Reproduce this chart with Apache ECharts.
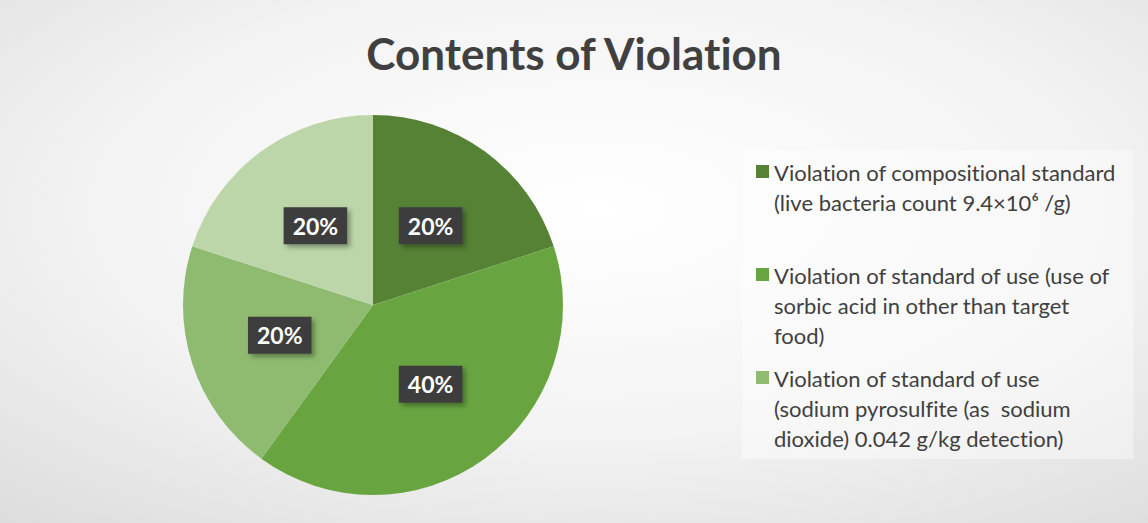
<!DOCTYPE html>
<html>
<head>
<meta charset="utf-8">
<script src="https://cdn.jsdelivr.net/npm/echarts@6/dist/echarts.min.js"></script>
<style>
  html, body { margin: 0; padding: 0; }
  #main { width: 1148px; height: 523px; }
  /* Lato has a "ti" ligature, Calibri does not */
  #main text { font-variant-ligatures: none; }
</style>
</head>
<body>
<div id="main"></div>
<script>
// data
const categories = [
  'Violation of compositional standard\n(live bacteria count 9.4×10⁶ /g)\n ',
  'Violation of standard of use (use of\nsorbic acid in other than target\nfood)',
  'Violation of standard of use\n(sodium pyrosulfite (as  sodium\ndioxide) 0.042 g/kg detection)',
  'Other'
];
const values = [20, 40, 20, 20];
const sliceColors = ['#558235', '#68a541', '#8fbb70', '#bcd6aa'];
const legendNames = categories.slice(0, 3);

const chart = echarts.init(document.getElementById('main'), null, { renderer: 'svg' });

const option = {
  backgroundColor: {
    type: 'radial', x: 0.52, y: 0.4, r: 1.25,
    colorStops: [
      { offset: 0, color: '#ffffff' },
      { offset: 0.35, color: '#f3f3f3' },
      { offset: 1, color: '#c0c0c0' }
    ]
  },
  title: {
    text: 'Contents of Violation',
    left: 'center',
    top: 26,
    textStyle: { fontFamily: 'Lato', fontWeight: 'bold', fontSize: 44, color: '#404040' }
  },
  legend: {
    orient: 'vertical',
    left: 742,
    top: 150,
    data: legendNames,
    backgroundColor: 'rgba(255,255,255,0.4)',
    padding: [7, 17, 6, 14],
    itemGap: 13,
    itemWidth: 13,
    itemHeight: 90,
    icon: 'path://M0,0M0,8h13v13h-13zM0,90',
    selectedMode: false,
    textStyle: { fontFamily: 'Lato', fontSize: 22, color: '#404040', lineHeight: 30 }
  },
  series: [{
    type: 'pie',
    center: [373, 305],
    radius: 190,
    startAngle: 90,
    clockwise: true,
    data: categories.map((name, i) => ({ name, value: values[i], itemStyle: { color: sliceColors[i] } })),
    label: {
      position: 'inside',
      formatter: p => p.value + '%',
      fontFamily: 'Lato',
      fontWeight: 'bold',
      fontSize: 23,
      color: '#ffffff',
      backgroundColor: '#3d3d3d',
      padding: [8, 9, 6, 9],
      shadowColor: 'rgba(0,0,0,0.35)',
      shadowBlur: 5,
      shadowOffsetX: 3,
      shadowOffsetY: 3
    },
    labelLine: { show: false },
    emphasis: { disabled: true }
  }]
};

chart.setOption(option);
</script>
</body>
</html>
